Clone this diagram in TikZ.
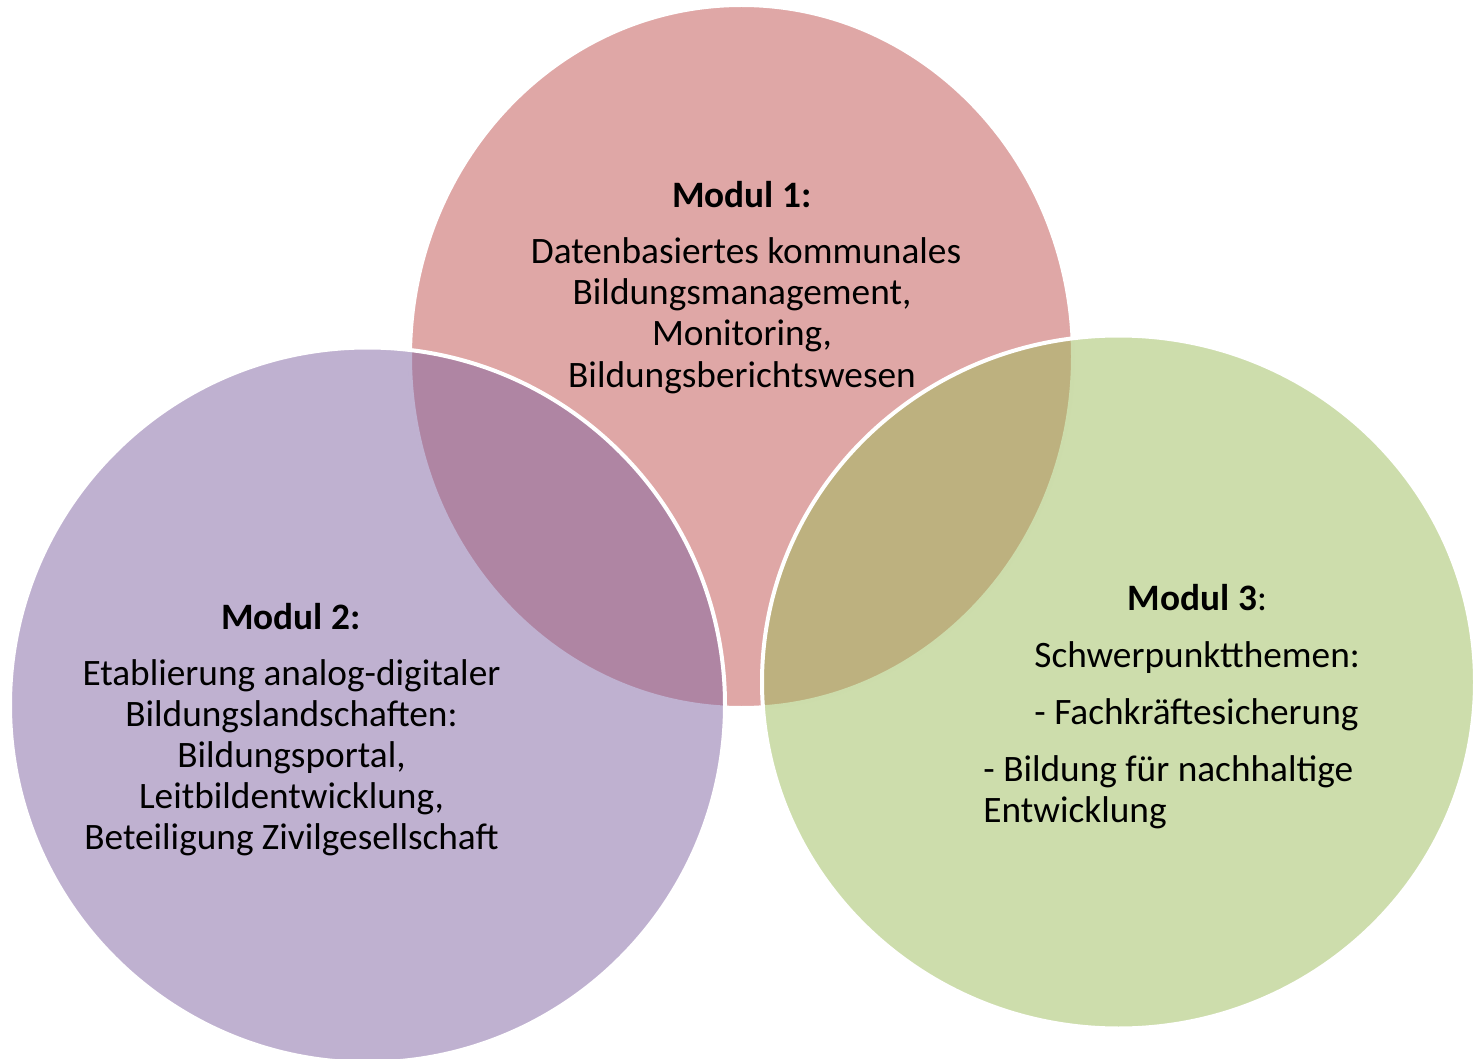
\documentclass[tikz,border=0pt]{standalone}
\usepackage{fontspec}
\setmainfont{Carlito}
\usetikzlibrary{shapes.geometric}
\definecolor{mredc}{HTML}{C0504D}
\definecolor{mpurc}{HTML}{8064A2}
\definecolor{mgrnc}{HTML}{9BBB59}
\tikzset{
  venn/.style={ellipse, draw=white, line width=2pt, fill opacity=0.5, inner sep=0pt},
  txt/.style={inner sep=0pt, font=\fontsize{18.65pt}{20.5pt}\selectfont, text=black},
  hd/.style={txt, font=\fontsize{18.65pt}{20.5pt}\selectfont\bfseries}
}
\begin{document}
\begin{tikzpicture}[x=0.5pt,y=-0.5pt]
\useasboundingbox (0,0) rectangle (1474,1059);
% circles
\node[venn, fill=mredc, minimum width=331.5pt, minimum height=351.5pt] (c1) at (741.5,356.5) {};
\node[venn, fill=mpurc, minimum width=357.5pt, minimum height=357.5pt] (c2) at (367.5,705) {};
\node[venn, fill=mgrnc, minimum width=356.5pt, minimum height=346.5pt] (c3) at (1118.5,682) {};
% Modul 1
\node[hd, anchor=base] (h1) at (742,208) {Modul 1:};
\node[txt, anchor=base] (t11) at (746,264) {Datenbasiertes kommunales};
\node[txt, anchor=base] (t12) at (742,305) {Bildungsmanagement,};
\node[txt, anchor=base] (t13) at (742,346) {Monitoring,};
\node[txt, anchor=base] (t14) at (742,387) {Bildungsberichtswesen};
% Modul 2
\node[hd, anchor=base] (h2) at (291,629) {Modul 2:};
\node[txt, anchor=base] (t21) at (291.5,685) {Etablierung analog-digitaler};
\node[txt, anchor=base] (t22) at (291.5,726) {Bildungslandschaften:};
\node[txt, anchor=base] (t23) at (291.5,767) {Bildungsportal,};
\node[txt, anchor=base] (t24) at (291.5,808) {Leitbildentwicklung,};
\node[txt, anchor=base] (t25) at (291.5,849) {Beteiligung Zivilgesellschaft};
% Modul 3
\node[txt, anchor=base] (h3) at (1197.5,610) {\textbf{Modul 3}:};
\node[txt, anchor=base west] (t31) at (1034,667) {Schwerpunktthemen:};
\node[txt, anchor=base west] (t32) at (1034,724) {- Fachkräftesicherung};
\node[txt, anchor=base west] (t33) at (983,781) {- Bildung für nachhaltige};
\node[txt, anchor=base west] (t34) at (983,822) {Entwicklung};
\end{tikzpicture}
\end{document}
